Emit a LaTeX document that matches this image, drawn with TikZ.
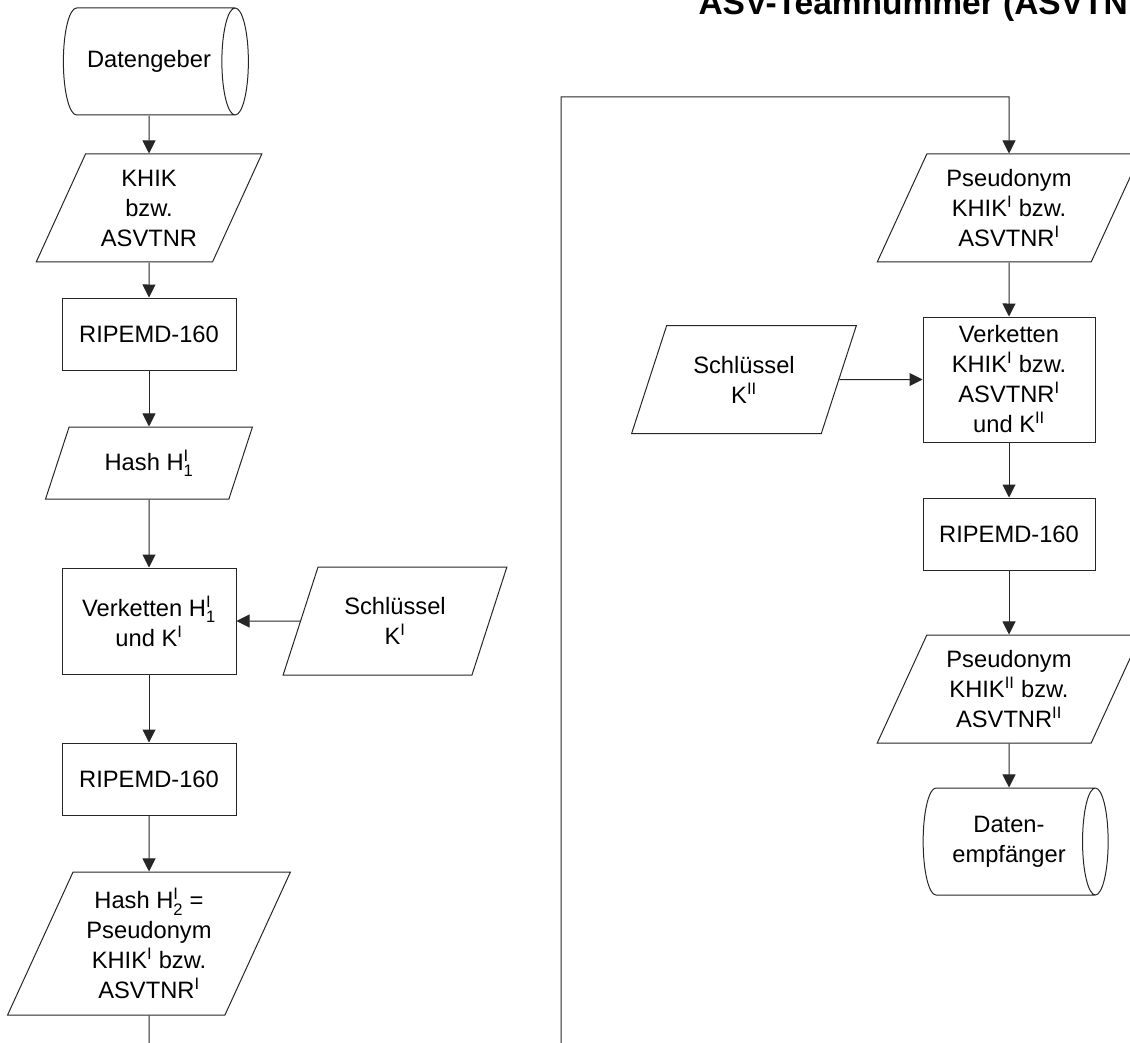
\documentclass[tikz,border=0pt]{standalone}
\usepackage{fontspec}
\setmainfont{Liberation Sans}
\usepackage{amsmath}
\usetikzlibrary{shapes.geometric,arrows.meta,positioning}

\tikzstyle{block} = [draw, rectangle, inner sep=0pt, align=center,
    minimum height=72pt, minimum width=174pt]
\tikzstyle{io} = [draw, trapezium, trapezium left angle=64,
    trapezium right angle=116, trapezium stretches=true,
    inner sep=0pt, align=center, minimum height=108pt, minimum width=226pt]
\tikzstyle{store} = [draw, cylinder, aspect=1.2, inner sep=0pt,
    align=center, minimum width=107pt, minimum height=185pt]
\tikzstyle{heading} = [anchor=base west, inner sep=0pt,
    font=\bfseries\fontsize{33.5}{40}\selectfont]

\begin{document}
\begin{tikzpicture}[auto, x=1pt, y=-1pt, line width=1pt, draw=black!85,
    >={Triangle[length=13pt,width=13pt]},
    font=\fontsize{23.7}{30}\selectfont]
    \useasboundingbox (0,0) rectangle (1130,1043);
    \node [heading] (title) at (698,15) {ASV-Teamnummer (ASVTNR)};

    % left column: first pseudonym
    \node [store] (giver) at (149,61.5) {Datengeber};
    \node [io, below of=giver, node distance=146.5pt] (khik)
        {KHIK\\bzw.\\ASVTNR};
    \node [block, below of=khik, node distance=126pt] (rip1) {RIPEMD-160};
    \node [io, below of=rip1, node distance=129pt, minimum height=72pt,
        minimum width=207pt] (hash1) {Hash H$^{\text{I}}_{\text{1}}$};
    \node [block, below of=hash1, node distance=158pt,
        minimum height=106pt] (verk1)
        {Verketten H$^{\text{I}}_{\text{1}}$\\und K\textsuperscript{I}};
    \node [io, right of=verk1, node distance=246pt,
        minimum width=224pt] (key1) {Schlüssel\\K\textsuperscript{I}};
    \node [block, below of=verk1, node distance=158pt] (rip2) {RIPEMD-160};
    \node [io, below of=rip2, node distance=164.5pt, minimum height=143pt,
        minimum width=283pt] (hash2)
        {Hash H$^{\text{I}}_{\text{2}}$ =\\Pseudonym\\KHIK\textsuperscript{I} bzw.\\ASVTNR\textsuperscript{I}};

    % right column: second pseudonym
    \node [io, minimum width=264pt] (pseudo1) at (1009,208)
        {Pseudonym\\KHIK\textsuperscript{I} bzw.\\ASVTNR\textsuperscript{I}};
    \node [block, below of=pseudo1, node distance=171.5pt,
        minimum width=172pt, minimum height=125pt] (verk2)
        {Verketten\\KHIK\textsuperscript{I} bzw.\\ASVTNR\textsuperscript{I}\\und K\textsuperscript{II}};
    \node [io, left of=verk2, node distance=265pt,
        minimum width=225pt] (key2) {Schlüssel\\K\textsuperscript{II}};
    \node [block, below of=verk2, node distance=154.5pt,
        minimum width=172pt] (rip3) {RIPEMD-160};
    \node [io, below of=rip3, node distance=155pt, minimum width=264pt]
        (pseudo2)
        {Pseudonym\\KHIK\textsuperscript{II} bzw.\\ASVTNR\textsuperscript{II}};
    \node [store, below of=pseudo2, node distance=152.5pt, aspect=0.5]
        (taker) {Daten-\\empfänger};

    % the hand-over runs below the page and back up
    \coordinate (down) at (149,1080);
    \coordinate (up) at (561,97);

    \draw [->] (giver) -- (khik);
    \draw [->] (khik) -- (rip1);
    \draw [->] (rip1) -- (hash1);
    \draw [->] (hash1) -- (verk1);
    \draw [->] (key1) -- (verk1);
    \draw [->] (verk1) -- (rip2);
    \draw [->] (rip2) -- (hash2);
    \draw [->] (hash2) -- (down) -| (up) -| (pseudo1);
    \draw [->] (pseudo1) -- (verk2);
    \draw [->] (key2) -- (verk2);
    \draw [->] (verk2) -- (rip3);
    \draw [->] (rip3) -- (pseudo2);
    \draw [->] (pseudo2) -- (taker);
\end{tikzpicture}
\end{document}
